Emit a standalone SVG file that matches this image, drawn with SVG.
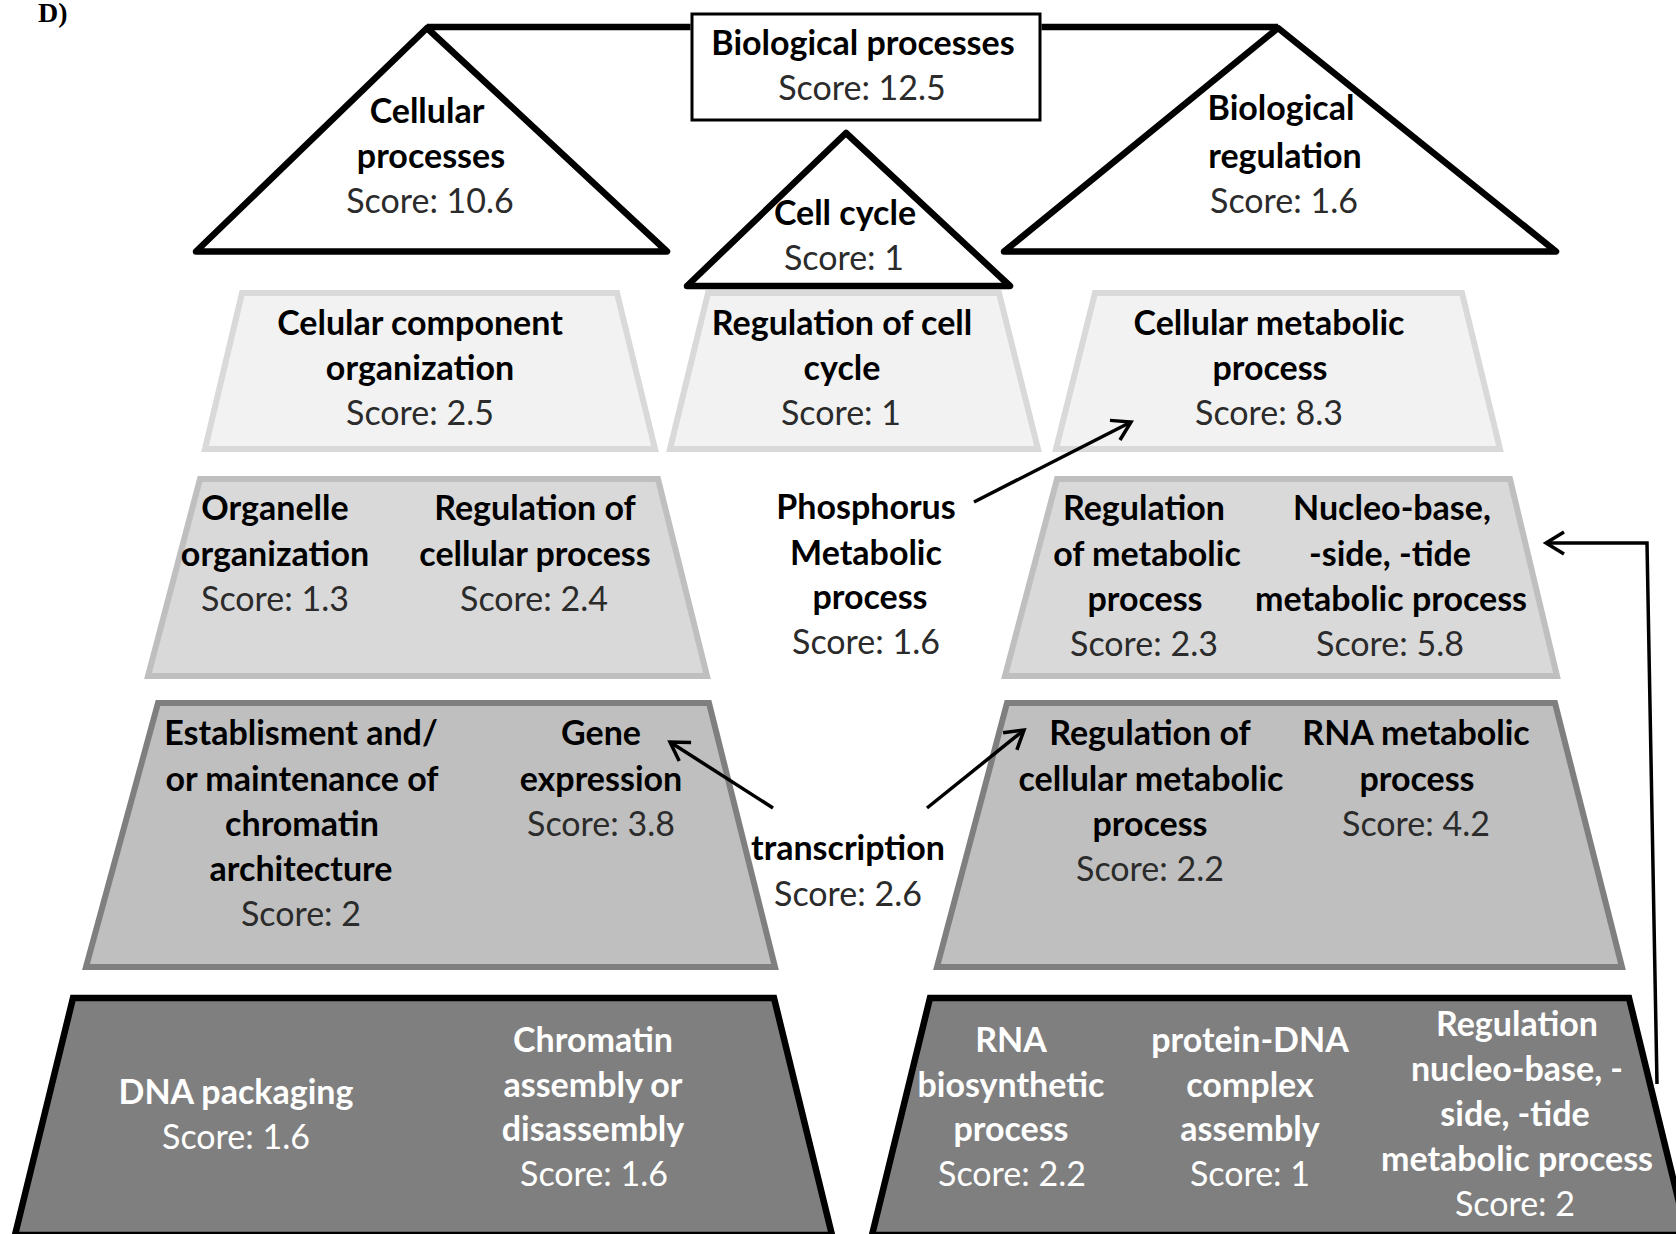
<svg xmlns="http://www.w3.org/2000/svg" width="1676" height="1234" viewBox="0 0 1676 1234">
<defs>
<style>
text{font-family:Lato,"Liberation Sans",sans-serif;font-size:34px;text-anchor:middle}
.b{font-weight:bold;fill:#000}
.r{fill:#2b2b2b}
.wb{font-weight:bold;fill:#fff}
.wr{fill:#fff}
.tri{fill:#fff;stroke:#000;stroke-width:6.5;stroke-linejoin:round}
.t1{fill:#f2f2f2;stroke:#d9d9d9;stroke-width:6}
.t2{fill:#d9d9d9;stroke:#bfbfbf;stroke-width:6}
.t3{fill:#bfbfbf;stroke:#7f7f7f;stroke-width:6}
.t4{fill:#7f7f7f;stroke:#000;stroke-width:6.5}
.arr{fill:none;stroke:#000;stroke-width:3.5;marker-end:url(#ah)}
.bar{stroke:#000;stroke-width:6.5}
</style>
<marker id="ah" markerUnits="userSpaceOnUse" markerWidth="30" markerHeight="30" refX="0" refY="0" viewBox="-22 -15 26 30" orient="auto">
<path d="M-18,-11 L0,0 L-18,11" fill="none" stroke="#000" stroke-width="3.5"/>
</marker>
</defs>
<rect width="1676" height="1234" fill="#fff"/>
<text x="38" y="22" style="font-family:'Liberation Serif',serif;font-weight:bold;font-size:28px;text-anchor:start;fill:#000">D)</text>

<g id="biological-processes">
<rect x="692" y="14" width="348" height="106" fill="#fff" stroke="#000" stroke-width="3"/>
<text class="b" x="863" y="55">Biological processes</text>
<text class="r" x="862" y="100">Score: 12.5</text>
</g>

<g id="cellular-processes">
<polygon class="tri" points="427,28 667,251.5 196,251.5"/>
<text class="b" x="427" y="123">Cellular</text>
<text class="b" x="431" y="168">processes</text>
<text class="r" x="430" y="213">Score: 10.6</text>
</g>

<g id="biological-regulation">
<polygon class="tri" points="1278,28 1556,251.5 1004,251.5"/>
<text class="b" x="1281" y="120">Biological</text>
<text class="b" x="1285" y="168">regulation</text>
<text class="r" x="1284" y="213">Score: 1.6</text>
</g>

<g id="celular-component-organization">
<polygon class="t1" points="242,293 617,293 655,449 205,449"/>
<text class="b" x="420" y="335">Celular component</text>
<text class="b" x="420" y="380">organization</text>
<text class="r" x="420" y="425">Score: 2.5</text>
</g>

<g id="regulation-of-cell-cycle">
<polygon class="t1" points="708,293 999,293 1038,449 670,449"/>
<text class="b" x="842" y="335">Regulation of cell</text>
<text class="b" x="842" y="380">cycle</text>
<text class="r" x="841" y="425">Score: 1</text>
</g>

<g id="cell-cycle">
<polygon class="tri" points="846,133 1010,286 687,286"/>
<text class="b" x="845" y="225">Cell cycle</text>
<text class="r" x="844" y="270">Score: 1</text>
</g>

<g id="cellular-metabolic-process">
<polygon class="t1" points="1095,293 1462,293 1500,449 1056,449"/>
<text class="b" x="1269" y="335">Cellular metabolic</text>
<text class="b" x="1270" y="380">process</text>
<text class="r" x="1269" y="425">Score: 8.3</text>
</g>

<g id="row3-left">
<polygon class="t2" points="200,479 658,479 707,676 148,676"/>
<g id="organelle-organization">
<text class="b" x="275" y="520">Organelle</text>
<text class="b" x="275" y="566">organization</text>
<text class="r" x="275" y="611">Score: 1.3</text>
</g>
<g id="regulation-of-cellular-process">
<text class="b" x="535" y="520">Regulation of</text>
<text class="b" x="535" y="566">cellular process</text>
<text class="r" x="534" y="611">Score: 2.4</text>
</g>
</g>

<g id="phosphorus-metabolic-process">
<text class="b" x="866" y="519">Phosphorus</text>
<text class="b" x="866" y="565">Metabolic</text>
<text class="b" x="870" y="609">process</text>
<text class="r" x="866" y="654">Score: 1.6</text>
</g>

<g id="row3-right">
<polygon class="t2" points="1057,479 1510,479 1557,676 1005,676"/>
<g id="regulation-of-metabolic-process">
<text class="b" x="1144" y="520">Regulation</text>
<text class="b" x="1147" y="566">of metabolic</text>
<text class="b" x="1145" y="611">process</text>
<text class="r" x="1144" y="656">Score: 2.3</text>
</g>
<g id="nucleobase-metabolic-process">
<text class="b" x="1392" y="520">Nucleo-base,</text>
<text class="b" x="1390" y="566">-side, -tide</text>
<text class="b" x="1391" y="611">metabolic process</text>
<text class="r" x="1390" y="656">Score: 5.8</text>
</g>
</g>

<g id="row4-left">
<polygon class="t3" points="158,703 709,703 775,967 86,967"/>
<g id="chromatin-architecture">
<text class="b" x="301" y="745">Establisment and/</text>
<text class="b" x="302" y="791">or maintenance of</text>
<text class="b" x="302" y="836">chromatin</text>
<text class="b" x="301" y="881">architecture</text>
<text class="r" x="301" y="926">Score: 2</text>
</g>
<g id="gene-expression">
<text class="b" x="601" y="745">Gene</text>
<text class="b" x="601" y="791">expression</text>
<text class="r" x="601" y="836">Score: 3.8</text>
</g>
</g>

<g id="transcription">
<text class="b" x="848" y="860">transcription</text>
<text class="r" x="848" y="906">Score: 2.6</text>
</g>

<g id="row4-right">
<polygon class="t3" points="1007,703 1555,703 1622,967 937,967"/>
<g id="regulation-of-cellular-metabolic-process">
<text class="b" x="1150" y="745">Regulation of</text>
<text class="b" x="1151" y="791">cellular metabolic</text>
<text class="b" x="1150" y="836">process</text>
<text class="r" x="1150" y="881">Score: 2.2</text>
</g>
<g id="rna-metabolic-process">
<text class="b" x="1416" y="745">RNA metabolic</text>
<text class="b" x="1417" y="791">process</text>
<text class="r" x="1416" y="836">Score: 4.2</text>
</g>
</g>

<g id="row5-left">
<polygon class="t4" points="73,998 774,998 832,1235 15,1235"/>
<g id="dna-packaging">
<text class="wb" x="236" y="1104">DNA packaging</text>
<text class="wr" x="236" y="1149">Score: 1.6</text>
</g>
<g id="chromatin-assembly">
<text class="wb" x="593" y="1052">Chromatin</text>
<text class="wb" x="593" y="1097">assembly or</text>
<text class="wb" x="593" y="1141">disassembly</text>
<text class="wr" x="594" y="1186">Score: 1.6</text>
</g>
</g>

<g id="row5-right">
<polygon class="t4" points="930,998 1629,998 1687,1235 872,1235"/>
<g id="rna-biosynthetic-process">
<text class="wb" x="1011" y="1052">RNA</text>
<text class="wb" x="1011" y="1097">biosynthetic</text>
<text class="wb" x="1011" y="1141">process</text>
<text class="wr" x="1012" y="1186">Score: 2.2</text>
</g>
<g id="protein-dna-complex-assembly">
<text class="wb" x="1250" y="1052">protein-DNA</text>
<text class="wb" x="1250" y="1097">complex</text>
<text class="wb" x="1250" y="1141">assembly</text>
<text class="wr" x="1250" y="1186">Score: 1</text>
</g>
<g id="regulation-nucleobase">
<text class="wb" x="1517" y="1036">Regulation</text>
<text class="wb" x="1517" y="1081">nucleo-base, -</text>
<text class="wb" x="1515" y="1126">side, -tide</text>
<text class="wb" x="1517" y="1171">metabolic process</text>
<text class="wr" x="1515" y="1216">Score: 2</text>
</g>
</g>

<g id="connectors">
<line class="bar" x1="427" y1="27" x2="690.5" y2="27"/>
<line class="bar" x1="1041.5" y1="27" x2="1278" y2="27"/>
<path class="arr" d="M974,502 L1131,422"/>
<path class="arr" d="M773,808 L670,742"/>
<path class="arr" d="M927,808 L1024,730"/>
<path class="arr" d="M1657,1084 L1647,543 L1546,543"/>
</g>
</svg>
